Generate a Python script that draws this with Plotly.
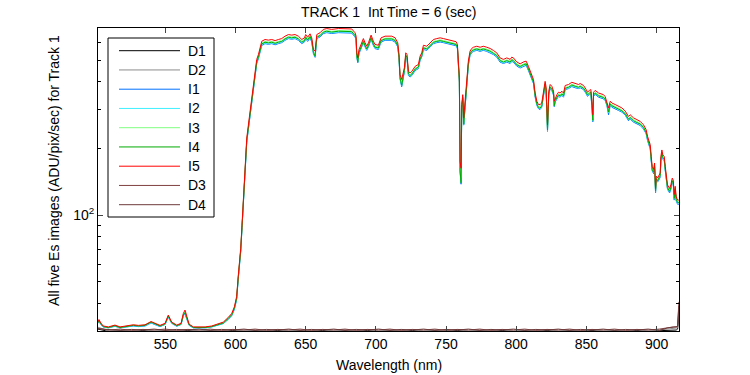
import plotly.graph_objects as go

# ---------------- data ----------------
wavelength = [502.0, 502.7, 504.0, 505.8, 509.4, 514.1, 517.7, 523.6, 527.2, 530.8, 535.5, 539.8, 542.6, 546.2, 549.8,
              552.1, 554.5, 558.1, 561.2, 562.8, 564.0, 565.2, 566.9, 570.0, 578.3, 583.0, 587.8, 591.3, 594.9, 597.3,
              599.2, 600.8, 602.0, 603.7, 604.6, 605.6, 606.8, 608.0, 609.8, 611.5, 613.4, 615.1, 616.3, 617.5, 618.7,
              621.0, 623.4, 625.8, 628.2, 630.5, 632.9, 635.3, 637.7, 640.0, 642.4, 644.8, 647.2, 649.1, 650.0, 651.4,
              653.1, 654.3, 655.5, 656.7, 657.9, 660.2, 662.6, 665.0, 668.5, 673.3, 678.0, 682.8, 685.2, 685.9, 686.4,
              687.1, 688.0, 689.5, 691.1, 692.3, 693.5, 694.7, 696.6, 698.2, 699.4, 701.8, 703.7, 706.6, 711.3, 713.7,
              715.6, 716.5, 717.2, 718.4, 719.6, 720.3, 721.3, 722.2, 723.2, 724.4, 725.6, 728.0, 730.3, 731.5, 732.7,
              733.9, 736.3, 738.6, 741.0, 743.4, 745.8, 748.1, 750.5, 752.9, 755.2, 757.2, 758.1, 758.6, 759.5, 760.0,
              760.7, 761.2, 761.9, 762.6, 763.6, 764.8, 765.9, 767.1, 768.3, 769.5, 771.9, 774.3, 776.6, 779.0, 781.4,
              783.8, 786.1, 788.5, 790.9, 793.3, 795.7, 796.8, 798.0, 800.4, 802.8, 805.2, 807.1, 808.7, 809.9, 811.1,
              812.3, 813.5, 814.7, 815.8, 817.0, 818.2, 819.4, 820.6, 821.3, 822.3, 823.2, 824.2, 825.4, 826.6, 827.1,
              827.8, 829.0, 830.1, 831.3, 832.5, 833.7, 834.9, 837.3, 839.6, 842.0, 844.4, 845.6, 848.0, 849.9, 850.8,
              852.2, 853.2, 853.9, 854.6, 855.1, 856.3, 858.7, 862.2, 863.4, 864.6, 865.8, 867.0, 868.2, 870.5, 872.9,
              875.3, 877.7, 880.0, 881.2, 883.6, 886.0, 888.4, 890.7, 892.6, 893.6, 894.5, 895.5, 896.2, 896.9, 897.9,
              898.6, 899.3, 899.8, 900.7, 901.7, 902.6, 903.1, 903.8, 904.5, 905.5, 906.2, 906.9, 907.8, 909.3, 910.2,
              911.2, 911.9, 912.6, 913.3, 914.0, 915.0, 915.9]

I5 = [33.0, 33.8, 32.6, 31.6, 31.3, 31.9, 31.3, 31.6, 32.0, 31.8, 32.0, 33.1, 32.5, 31.8, 32.5,
      35.4, 32.9, 31.9, 32.5, 36.0, 37.3, 34.9, 32.2, 31.3, 31.3, 31.6, 32.2, 32.9, 34.6, 36.0,
      38.6, 42.9, 53.7, 70.9, 90, 119, 169, 223, 275, 338, 410, 505, 531, 570, 610,
      621, 617, 621, 614, 621, 627, 643, 654, 650, 654, 643, 621, 632, 654, 636,
      659, 632, 560, 550, 654, 666, 690, 696, 690, 696, 696, 693, 666, 643, 541,
      513, 560, 590, 627, 600, 579, 600, 650, 610, 590, 585, 632, 643, 643, 632,
      600, 531, 431, 410, 446, 463, 541, 531, 446, 439, 446, 470, 479, 522, 541,
      585, 579, 600, 621, 627, 632, 627, 621, 617, 614, 607, 590, 531, 417, 175,
      163, 316, 350, 275, 327, 431, 496, 550, 566, 573, 579, 573, 579, 573, 566,
      554, 541, 513, 505, 513, 505, 517, 513, 492, 482, 492, 496, 470, 446, 431,
      410, 356, 327, 316, 316, 321, 356, 402, 378, 256, 363, 389, 382, 363, 327,
      338, 350, 359, 356, 363, 356, 385, 389, 398, 393, 389, 393, 385, 369, 359,
      366, 369, 327, 284, 359, 366, 356, 350, 343, 327, 305, 327, 321, 316, 310,
      305, 295, 279, 284, 275, 270, 265, 256, 243, 227, 219, 208, 184, 166, 161,
      172, 132, 150, 147, 152, 155, 184, 197, 187, 184, 166, 152, 137, 132, 137,
      147, 144, 124, 135, 121, 117, 117]

I3 = [32.8, 33.6, 32.4, 31.5, 31.2, 31.8, 31.2, 31.5, 31.9, 31.7, 31.9, 33.0, 32.4, 31.7, 32.4,
      35.2, 32.8, 31.8, 32.4, 35.7, 36.6, 34.7, 32.1, 31.2, 31.2, 31.5, 32.1, 32.8, 34.4, 35.7,
      38.3, 42.5, 53.1, 70.1, 89, 117.5, 166, 219, 270, 331, 402, 495, 520, 559, 598,
      609, 605, 609, 602, 609, 614, 630, 641, 637, 641, 630, 609, 619, 641, 623,
      646, 619, 549, 535, 641, 653, 676, 682, 676, 682, 682, 679, 653, 630, 530,
      500, 549, 578, 614, 588, 567, 588, 637, 598, 578, 573, 619, 630, 630, 619,
      588, 520, 422, 395, 437, 454, 530, 520, 437, 430, 437, 461, 469, 512, 530,
      573, 567, 588, 609, 614, 619, 614, 609, 605, 602, 595, 578, 520, 409, 165,
      148, 310, 343, 265, 320, 422, 486, 539, 555, 562, 567, 562, 567, 562, 555,
      543, 530, 503, 495, 503, 495, 507, 503, 482, 472, 482, 486, 461, 437, 422,
      402, 349, 320, 310, 310, 315, 349, 394, 370, 248, 356, 381, 374, 356, 318,
      331, 343, 352, 349, 356, 349, 377, 381, 390, 385, 381, 385, 377, 362, 352,
      359, 362, 318, 274, 352, 359, 349, 343, 336, 320, 296, 320, 315, 310, 304,
      299, 289, 273, 278, 270, 265, 260, 251, 238, 222, 215, 204, 180, 163, 158,
      169, 130, 147, 144, 149, 152, 180, 193, 183, 180, 163, 149, 134, 130, 134,
      144, 141, 121, 132, 119, 115, 115]

I4 = [32.7, 33.4, 32.3, 31.4, 31.1, 31.7, 31.1, 31.4, 31.8, 31.6, 31.8, 32.9, 32.3, 31.6, 32.3,
      35.0, 32.7, 31.7, 32.3, 35.5, 36.3, 34.6, 32.0, 31.1, 31.1, 31.4, 32.0, 32.6, 34.2, 35.5,
      38.0, 42.2, 52.7, 69.5, 88, 116.5, 165, 217, 267, 328, 398, 491, 516, 554, 593,
      604, 600, 604, 597, 604, 609, 625, 636, 632, 636, 625, 604, 614, 636, 618,
      641, 614, 544, 522, 636, 647, 671, 677, 671, 677, 677, 674, 647, 625, 526,
      492, 544, 573, 609, 583, 563, 583, 632, 593, 573, 569, 614, 625, 625, 614,
      583, 516, 419, 385, 434, 450, 526, 516, 434, 427, 434, 457, 466, 507, 526,
      569, 563, 583, 604, 609, 614, 609, 604, 600, 597, 590, 573, 516, 405, 160,
      140, 307, 340, 258, 318, 419, 482, 535, 550, 557, 563, 557, 563, 557, 550,
      538, 526, 499, 491, 499, 491, 503, 499, 478, 469, 478, 482, 457, 434, 419,
      399, 346, 318, 307, 304, 312, 346, 391, 367, 242, 353, 378, 371, 353, 312,
      329, 340, 349, 346, 353, 346, 374, 378, 387, 382, 378, 382, 374, 359, 349,
      356, 359, 312, 268, 349, 356, 346, 340, 333, 318, 292, 318, 312, 307, 301,
      296, 287, 271, 276, 267, 262, 258, 249, 236, 221, 213, 202, 179, 161, 156,
      167, 128, 146, 143, 148, 151, 179, 191, 182, 179, 161, 148, 133, 128, 133,
      143, 140, 119, 131, 118, 114, 114]

I2 = [32.6, 33.3, 32.2, 31.3, 31.0, 31.6, 31.0, 31.3, 31.7, 31.5, 31.7, 32.7, 32.2, 31.5, 32.2,
      34.8, 32.6, 31.6, 32.2, 35.3, 36.0, 34.4, 31.9, 31.0, 31.0, 31.3, 31.9, 32.5, 34.0, 35.3,
      37.8, 41.9, 52.3, 68.9, 87.5, 115.5, 163, 215, 265, 326, 396, 487, 512, 550, 589,
      599, 595, 599, 593, 599, 605, 620, 631, 627, 631, 620, 599, 610, 631, 614,
      636, 610, 540, 520, 631, 643, 666, 672, 666, 672, 672, 669, 643, 620, 522,
      490, 540, 569, 605, 579, 559, 579, 627, 589, 569, 565, 610, 620, 620, 610,
      579, 512, 416, 384, 430, 447, 522, 512, 430, 424, 430, 454, 462, 504, 522,
      565, 559, 579, 599, 605, 610, 605, 599, 595, 593, 586, 569, 512, 402, 158,
      140, 305, 338, 257, 316, 416, 479, 531, 546, 553, 559, 553, 559, 553, 546,
      535, 522, 495, 487, 495, 487, 499, 495, 475, 465, 475, 479, 454, 430, 416,
      396, 344, 316, 305, 302, 310, 344, 388, 365, 241, 350, 375, 369, 350, 311,
      326, 338, 346, 344, 350, 344, 372, 375, 384, 379, 375, 379, 372, 356, 346,
      353, 356, 311, 266, 346, 353, 344, 338, 331, 316, 290, 316, 310, 305, 299,
      294, 285, 269, 274, 265, 261, 256, 247, 235, 219, 211, 201, 178, 160, 155,
      166, 127, 145, 142, 147, 150, 178, 190, 180, 178, 160, 147, 132, 127, 132,
      142, 139, 118, 130, 117, 113, 113]

I1 = [32.5, 33.2, 32.1, 31.3, 31.0, 31.5, 31.0, 31.3, 31.6, 31.4, 31.6, 32.6, 32.1, 31.4, 32.1,
      34.7, 32.5, 31.5, 32.1, 35.1, 35.8, 34.3, 31.8, 31.0, 31.0, 31.3, 31.8, 32.4, 33.9, 35.1,
      37.6, 41.6, 51.9, 68.4, 87, 114.5, 162, 213, 263, 323, 393, 484, 509, 546, 584,
      595, 591, 595, 588, 595, 601, 616, 627, 623, 627, 616, 595, 605, 627, 609,
      631, 605, 536, 516, 627, 638, 661, 667, 661, 667, 667, 664, 638, 616, 518,
      487, 536, 565, 601, 575, 555, 575, 623, 584, 565, 560, 605, 616, 616, 605,
      575, 509, 413, 380, 427, 444, 518, 509, 427, 421, 427, 450, 459, 500, 518,
      560, 555, 575, 595, 601, 605, 601, 595, 591, 588, 582, 565, 509, 399, 157,
      138, 303, 335, 255, 313, 413, 475, 527, 542, 549, 555, 549, 555, 549, 542,
      531, 518, 491, 484, 491, 484, 495, 491, 471, 462, 471, 475, 450, 427, 413,
      393, 341, 313, 303, 300, 307, 341, 385, 362, 239, 348, 373, 366, 348, 309,
      324, 335, 344, 341, 348, 341, 369, 373, 381, 376, 373, 376, 369, 353, 344,
      351, 353, 309, 264, 344, 351, 341, 335, 329, 313, 284, 313, 307, 303, 297,
      292, 283, 267, 272, 263, 259, 254, 245, 233, 217, 210, 199, 176, 159, 154,
      165, 126, 144, 141, 146, 148, 176, 189, 179, 176, 159, 146, 131, 126, 131,
      141, 138, 117, 129, 116, 112, 112]

dark_wavelength = [502, 510, 518, 526, 534, 542, 550, 558, 566, 574, 582, 590, 598, 606, 614, 622, 630, 638,
                   646, 654, 662, 670, 678, 686, 694, 702, 710, 718, 726, 734, 742, 750, 758, 766, 774, 782,
                   790, 798, 806, 814, 822, 830, 838, 846, 854, 862, 870, 878, 886, 894, 902, 908, 912, 914,
                   915, 915.9]
D1 = [30.6, 29.8, 30.1, 29.8, 30.2, 29.8, 30.1, 29.8, 30.2, 29.8, 30.1, 29.8, 30.2, 29.8, 30.1, 29.8, 30.2, 29.8,
      30.1, 29.8, 30.2, 29.8, 30.1, 29.8, 30.2, 29.8, 30.1, 29.8, 30.2, 29.8, 30.1, 29.8, 30.2, 29.8, 30.1, 29.8,
      30.2, 29.8, 30.1, 29.8, 30.2, 29.8, 30.1, 29.8, 30.2, 29.8, 30.1, 29.8, 30.2, 29.8, 30.1, 30.2, 30.3, 30.3,
      30.6, 35.0]
D2 = [31.2, 30.0, 30.3, 30.0, 30.4, 30.0, 30.3, 30.0, 30.4, 30.0, 30.3, 30.0, 30.4, 30.0, 30.3, 30.0, 30.4, 30.0,
      30.3, 30.0, 30.4, 30.0, 30.3, 30.0, 30.4, 30.0, 30.3, 30.0, 30.4, 30.0, 30.3, 30.0, 30.4, 30.0, 30.3, 30.0,
      30.4, 30.0, 30.3, 30.0, 30.4, 30.0, 30.3, 30.0, 30.4, 30.0, 30.3, 30.0, 30.4, 30.0, 30.3, 30.6, 30.8, 30.8,
      31.0, 37.0]
D3 = [30.8, 30.3, 30.6, 30.2, 30.5, 30.3, 30.6, 30.2, 30.5, 30.3, 30.6, 30.2, 30.5, 30.3, 30.6, 30.2, 30.5, 30.3,
      30.6, 30.2, 30.5, 30.3, 30.6, 30.2, 30.5, 30.3, 30.6, 30.2, 30.5, 30.3, 30.6, 30.2, 30.5, 30.3, 30.6, 30.2,
      30.5, 30.3, 30.6, 30.2, 30.5, 30.3, 30.6, 30.2, 30.5, 30.3, 30.6, 30.2, 30.5, 30.3, 30.6, 31.1, 31.3, 31.3,
      31.6, 40.6]
D4 = [30.7, 30.4, 30.2, 30.5, 30.3, 30.6, 30.2, 30.5, 30.3, 30.6, 30.2, 30.5, 30.3, 30.6, 30.2, 30.5, 30.3, 30.6,
      30.2, 30.5, 30.3, 30.6, 30.2, 30.5, 30.3, 30.6, 30.2, 30.5, 30.3, 30.6, 30.2, 30.5, 30.3, 30.6, 30.2, 30.5,
      30.3, 30.6, 30.2, 30.5, 30.3, 30.6, 30.2, 30.5, 30.3, 30.6, 30.2, 30.5, 30.3, 30.6, 30.2, 31.0, 31.2, 31.2,
      31.4, 39.0]

series_names = ["D1", "D2", "I1", "I2", "I3", "I4", "I5", "D3", "D4"]
series_colors = ["#000000", "#8c8c8c", "#0070ff", "#3ff0ff", "#80ff80", "#00aa00", "#ff0000", "#804040", "#6e3a3a"]

x_ticks = [550, 600, 650, 700, 750, 800, 850, 900]
y_major_ticks = [100]
y_major_text = ["10<sup>2</sup>"]
y_minor_ticks = [30, 40, 50, 60, 70, 80, 90, 200, 300, 400, 500, 600, 700]

title_text = "TRACK 1  Int Time = 6 (sec)"
x_label = "Wavelength (nm)"
y_label = "All five Es images (ADU/pix/sec) for Track 1"

# ---------------- figure ----------------
FONT = "Liberation Sans, Arial, Helvetica, sans-serif"
series_data = {
    "D1": (dark_wavelength, D1), "D2": (dark_wavelength, D2),
    "I1": (wavelength, I1), "I2": (wavelength, I2), "I3": (wavelength, I3),
    "I4": (wavelength, I4), "I5": (wavelength, I5),
    "D3": (dark_wavelength, D3), "D4": (dark_wavelength, D4),
}

fig = go.Figure()
for name, color in zip(series_names, series_colors):
    xs, ys = series_data[name]
    fig.add_trace(go.Scatter(x=xs, y=ys, mode="lines", name=name, showlegend=False,
                             line=dict(color=color, width=1)))

W, H = 750, 375
L, R, T, B = 98, 71, 28, 44
pw, ph = W - L - R, H - T - B

def px_x(X):
    return (X - L) / pw

def px_y(Y):
    return (H - B - Y) / ph

# legend box drawn in MATLAB style (long line samples)
shapes = [dict(type="rect", xref="paper", yref="paper", x0=px_x(108), x1=px_x(214), y0=px_y(217), y1=px_y(38),
               line=dict(color="black", width=1), fillcolor="white", layer="above")]
annotations = []
for i, (name, color) in enumerate(zip(series_names, series_colors)):
    yy = px_y(50.7 + 19.25 * i)
    shapes.append(dict(type="line", xref="paper", yref="paper", x0=px_x(119), x1=px_x(180), y0=yy, y1=yy,
                       line=dict(color=color, width=1), layer="above"))
    annotations.append(dict(text=name, xref="paper", yref="paper", x=px_x(186), y=yy, xanchor="left",
                            yanchor="middle", showarrow=False, font=dict(size=14)))

annotations += [
    dict(text=title_text, xref="paper", yref="paper", x=0.5, y=px_y(12),
         xanchor="center", yanchor="middle", showarrow=False, font=dict(size=14)),
    dict(text=x_label, xref="paper", yref="paper", x=0.5, y=px_y(365),
         xanchor="center", yanchor="middle", showarrow=False, font=dict(size=14)),
    dict(text=y_label, xref="paper", yref="paper", x=px_x(54), y=px_y(171),
         xanchor="center", yanchor="middle", showarrow=False, textangle=-90, font=dict(size=14)),
]

fig.update_layout(
    width=W, height=H,
    margin=dict(l=L, r=R, t=T, b=B, pad=0),
    paper_bgcolor="white", plot_bgcolor="white",
    font=dict(family=FONT, size=14, color="black"),
    showlegend=False,
    xaxis=dict(range=[502, 916], tickvals=x_ticks, ticks="inside", ticklen=5,
               showline=True, linecolor="black", linewidth=1, mirror="ticks",
               showgrid=False, zeroline=False, tickfont=dict(size=14)),
    yaxis=dict(type="log", range=[1.4771, 2.8451], tickvals=y_major_ticks, ticktext=y_major_text,
               ticks="inside", ticklen=5, showline=True, linecolor="black", linewidth=1,
               mirror="ticks", showgrid=False, zeroline=False, tickfont=dict(size=14),
               minor=dict(tickvals=y_minor_ticks, ticks="inside", ticklen=3, tickcolor="black", showgrid=False)),
    shapes=shapes,
    annotations=annotations,
)

fig.write_html("out.html", config={"displayModeBar": False},
               post_script="document.body.style.margin='0';document.body.style.padding='0';")
